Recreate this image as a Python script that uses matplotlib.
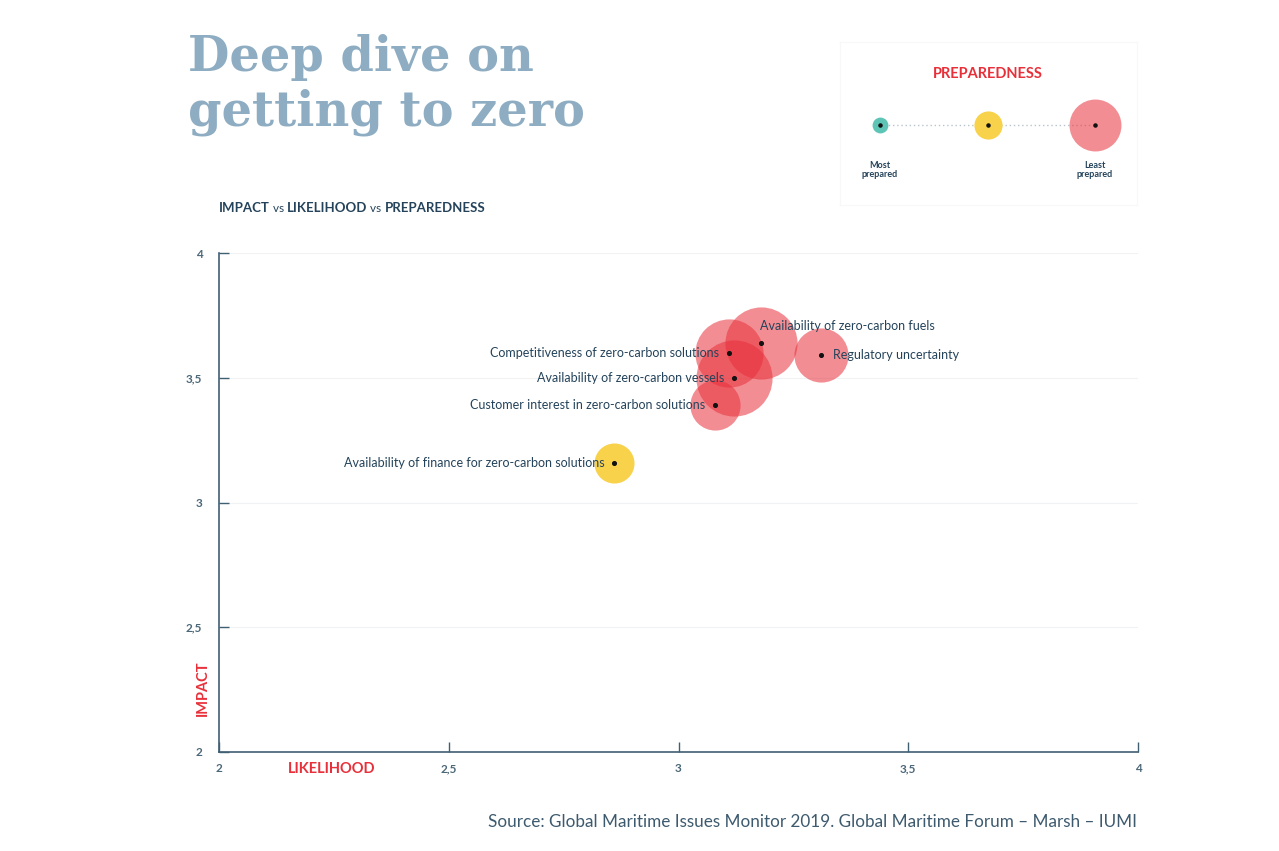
import numpy as np
import matplotlib.pyplot as plt

# data
risks = ['Availability of zero-carbon fuels',
         'Competitiveness of zero-carbon solutions',
         'Availability of zero-carbon vessels',
         'Customer interest in zero-carbon solutions',
         'Regulatory uncertainty',
         'Availability of finance for zero-carbon solutions']
likelihood = [3.18, 3.11, 3.12, 3.08, 3.31, 2.86]
impact = [3.64, 3.60, 3.50, 3.39, 3.59, 3.16]
preparedness = [2.36, 2.45, 2.27, 2.86, 2.77, 3.09]
label_side = ['above', 'left', 'left', 'left', 'right', 'left']

ticks = [2, 2.5, 3, 3.5, 4]
tick_labels = ['2', '2,5', '3', '3,5', '4']

legend_prep = [3.64, 3.36, 2.82]

RED = '#e8303a'
YELLOW = '#f9d24c'
TEAL = '#5ec4b5'
NAVY = '#24435a'
AXIS = '#3f5f73'

plt.rcParams['font.family'] = ['Lato', 'DejaVu Sans']


def bubble_size(p):
    # marker area (pt^2) from preparedness: less prepared -> bigger bubble
    r_px = 22 * (4.0 - np.asarray(p))
    return (2 * r_px * 0.72) ** 2


def bubble_color(p):
    if p < 3.0:
        return RED
    if p < 3.5:
        return YELLOW
    return TEAL


fig = plt.figure(figsize=(12.79, 8.51), dpi=100)
ax = fig.add_axes([219 / 1279, 1 - 752 / 851, (1138 - 219) / 1279, (752 - 253) / 851])

for x, y, p in zip(likelihood, impact, preparedness):
    c = bubble_color(p)
    ax.scatter(x, y, s=bubble_size(p), color=c, alpha=0.55 if c == RED else 1.0,
               linewidths=0, zorder=3)
ax.scatter(likelihood, impact, s=7, color='#111111', zorder=5)

for name, x, y, side in zip(risks, likelihood, impact, label_side):
    if side == 'left':
        ax.annotate(name, (x, y), xytext=(-7, 0), textcoords='offset points',
                    ha='right', va='center', fontsize=9, color=NAVY, zorder=6)
    elif side == 'right':
        ax.annotate(name, (x, y), xytext=(9, 0), textcoords='offset points',
                    ha='left', va='center', fontsize=9, color=NAVY, zorder=6)
    else:
        ax.annotate(name, (x, y), xytext=(-1, 12), textcoords='offset points',
                    ha='left', va='center', fontsize=9, color=NAVY, zorder=6)

ax.set_xlim(2, 4)
ax.set_ylim(2, 4)
ax.set_xticks(ticks)
ax.set_xticklabels(tick_labels)
ax.set_yticks(ticks)
ax.set_yticklabels(tick_labels)
for y in ticks[1:]:
    ax.axhline(y, color='#f0f2f4', lw=0.8, zorder=0)
ax.tick_params(direction='in', length=7, width=1, color=AXIS, labelcolor='#4b6778',
               labelsize=8.5)
ax.tick_params(axis='y', pad=12)
ax.tick_params(axis='x', pad=8)
for lab in ax.get_xticklabels() + ax.get_yticklabels():
    lab.set_fontweight('bold')
for s in ['top', 'right']:
    ax.spines[s].set_visible(False)
for s in ['left', 'bottom']:
    ax.spines[s].set_color(AXIS)
    ax.spines[s].set_linewidth(1.2)

fig.text(203 / 1279, 1 - 688 / 851, 'IMPACT', rotation=90, ha='center', va='center',
         color=RED, fontsize=10.5, fontweight='bold')
fig.text(332 / 1279, 1 - 769 / 851, 'LIKELIHOOD', ha='center', va='center',
         color=RED, fontsize=10.5, fontweight='bold')

# title
fig.text(188 / 1279, 1 - 34 / 851, 'Deep dive on\ngetting to zero', ha='left', va='top',
         family='DejaVu Serif', fontsize=34.5, color='#8eadc2', fontweight='bold',
         linespacing=1.2)

# subtitle built from pieces chained end to end
prev = fig.text(219 / 1279, 1 - 208 / 851, 'IMPACT', ha='left', va='center',
                fontsize=9.5, fontweight='bold', color=NAVY)
for txt, bold in [(' vs ', False), ('LIKELIHOOD', True), (' vs ', False),
                  ('PREPAREDNESS', True)]:
    prev = ax.annotate(txt, xy=(1, 0.5), xycoords=prev, ha='left', va='center',
                       fontsize=9.5 if bold else 8.5,
                       fontweight='bold' if bold else 'normal', color=NAVY,
                       annotation_clip=False)

# preparedness legend box
lax = fig.add_axes([840 / 1279, 1 - 205 / 851, 297 / 1279, 163 / 851])
lax.set_xlim(840, 1137)
lax.set_ylim(205, 42)
lax.set_xticks([])
lax.set_yticks([])
for s in lax.spines.values():
    s.set_color('#f8f8f8')
    s.set_linewidth(0.8)
lx = [880, 988, 1095]
lax.plot([lx[0], lx[-1]], [125, 125], ls=(0, (1, 2)), color='#b8c4cc', lw=1, zorder=1)
for x, p in zip(lx, legend_prep):
    lax.scatter(x, 125, s=bubble_size(p), color=bubble_color(p),
                alpha=0.55 if bubble_color(p) == RED else 1.0, linewidths=0, zorder=2)
    lax.scatter(x, 125, s=5, color='#111111', zorder=3)
lax.text(988, 74, 'PREPAREDNESS', ha='center', va='center', color=RED,
         fontsize=10.5, fontweight='bold')
lax.text(880, 170, 'Most\nprepared', ha='center', va='center', color=NAVY,
         fontsize=6.5, fontweight='bold', linespacing=0.9)
lax.text(1095, 170, 'Least\nprepared', ha='center', va='center', color=NAVY,
         fontsize=6.5, fontweight='bold', linespacing=0.9)

fig.text(1137 / 1279, 1 - 822 / 851,
         'Source: Global Maritime Issues Monitor 2019. Global Maritime Forum \u2013 Marsh \u2013 IUMI',
         ha='right', va='center', fontsize=12.3, color='#3d5a6e')

fig.savefig('out.png', dpi=100)
